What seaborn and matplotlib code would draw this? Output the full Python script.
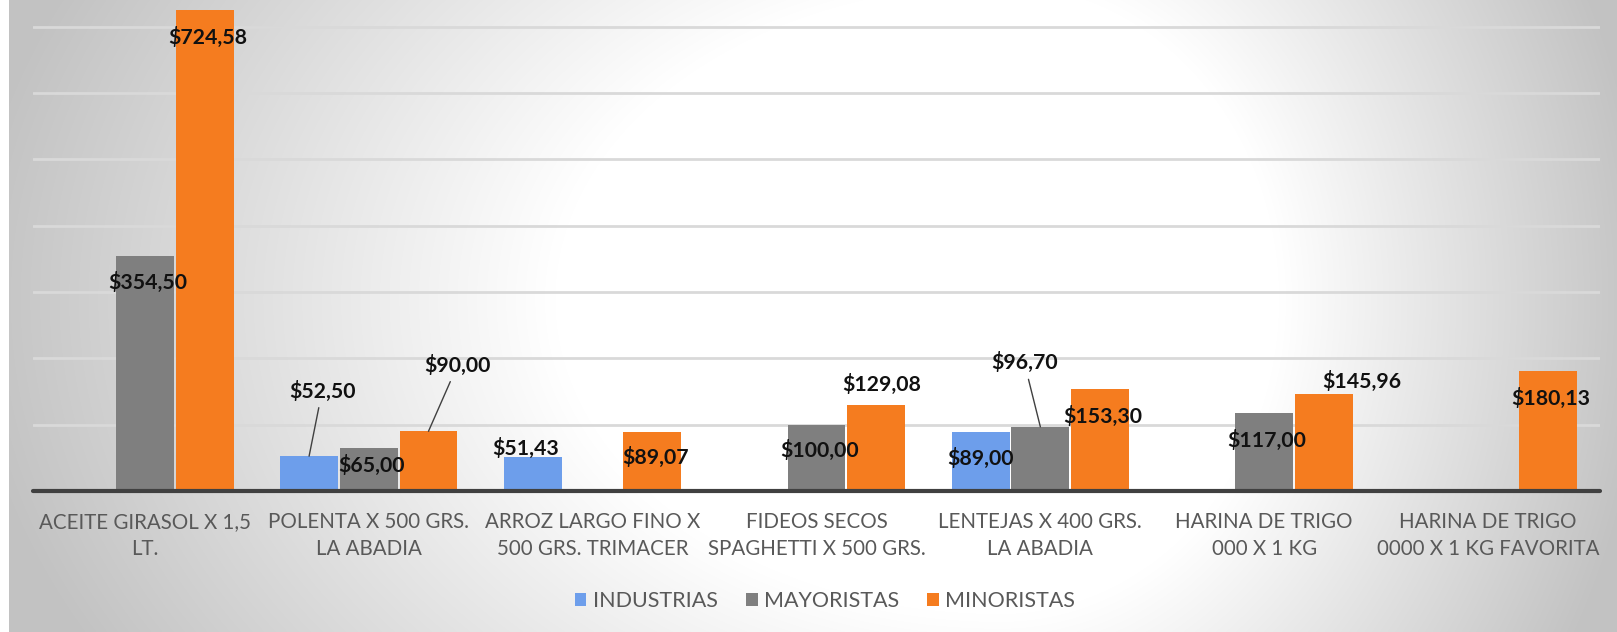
import numpy as np
import pandas as pd
import matplotlib
matplotlib.use("Agg")
import matplotlib.pyplot as plt
import seaborn as sns

# ---------------- data ----------------
categorias = [
    "ACEITE GIRASOL X 1,5\nLT.",
    "POLENTA X 500 GRS.\nLA ABADIA",
    "ARROZ LARGO FINO X\n500 GRS. TRIMACER",
    "FIDEOS SECOS\nSPAGHETTI X 500 GRS.",
    "LENTEJAS X 400 GRS.\nLA ABADIA",
    "HARINA DE TRIGO\n000 X 1 KG",
    "HARINA DE TRIGO\n0000 X 1 KG FAVORITA",
]
series = ["INDUSTRIAS", "MAYORISTAS", "MINORISTAS"]
industrias = [np.nan, 52.50, 51.43, np.nan, 89.00, np.nan, np.nan]
mayoristas = [354.50, 65.00, np.nan, 100.00, 96.70, 117.00, np.nan]
minoristas = [724.58, 90.00, 89.07, 129.08, 153.30, 145.96, 180.13]
gridline_values = [100, 200, 300, 400, 500, 600, 700]

# ---------------- style ----------------
colores = {"INDUSTRIAS": "#6D9EEB", "MAYORISTAS": "#7F7F7F", "MINORISTAS": "#F57C1F"}
# label offsets (pixels, relative to bar top-centre; +y = up) and leader flag
label_style = {
    ("INDUSTRIAS", 1): (13, 65, True),
    ("INDUSTRIAS", 2): (-7, 8, False),
    ("INDUSTRIAS", 4): (0, -27, False),
    ("MAYORISTAS", 0): (3, -27, False),
    ("MAYORISTAS", 1): (3, -18, False),
    ("MAYORISTAS", 3): (3, -26, False),
    ("MAYORISTAS", 4): (-16, 64, True),
    ("MAYORISTAS", 5): (2, -27, False),
    ("MINORISTAS", 0): (3, -27, False),
    ("MINORISTAS", 1): (29, 66, True),
    ("MINORISTAS", 2): (3, -26, False),
    ("MINORISTAS", 3): (6, 21, False),
    ("MINORISTAS", 4): (3, -27, False),
    ("MINORISTAS", 5): (38, 13, False),
    ("MINORISTAS", 6): (3, -27, False),
}

df = pd.DataFrame({
    "producto": categorias * 3,
    "serie": np.repeat(series, len(categorias)),
    "precio": industrias + mayoristas + minoristas,
})

W, H, DPI = 1617, 632, 100
sns.set_theme(style="white")
plt.rcParams["font.family"] = ["Lato", "DejaVu Sans"]

fig = plt.figure(figsize=(W / DPI, H / DPI), dpi=DPI, facecolor="white")

# background radial gradient
bg = fig.add_axes([9 / W, 0, 1 - 9 / W, 1], zorder=-10)
xs = np.arange(9, W) + 0.5
ys = np.arange(0, H) + 0.5
X, Y = np.meshgrid(xs, ys)
cx, cy = 1000.0, 300.0
axx = np.where(X < cx, 990.0, 620.0)
r = np.sqrt(((X - cx) / axx) ** 2 + ((Y - cy) / 700.0) ** 2)
v = 1.0 - 0.22 * np.clip((r - 0.45) / 0.55, 0, 1.08)
img = np.dstack([v, v, v])
bg.imshow(img, aspect="auto", extent=[0, 1, 0, 1], interpolation="bilinear")
bg.set_axis_off()

# main axes
left, right, base = 33, 1600, 491
ax = fig.add_axes([left / W, (H - base) / H, (right - left) / W, base / H])
ax.patch.set_alpha(0)
sns.barplot(data=df, x="producto", y="precio", hue="serie", order=categorias,
            hue_order=series, palette=colores, width=0.8, gap=0.03,
            saturation=1, linewidth=0, ax=ax, errorbar=None)
ax.set_ylim(0, 740)
ax.set_xlim(-0.5, len(categorias) - 0.5)
ax.set_yticks(gridline_values)
ax.yaxis.grid(True, color="#d9d9d9", lw=2)
ax.xaxis.grid(False)
ax.set_axisbelow(True)
ax.tick_params(axis="y", left=False, labelleft=False)
ax.tick_params(axis="x", bottom=False, pad=9)
ax.set_xlabel("")
ax.set_ylabel("")
for s in ax.spines.values():
    s.set_visible(False)
ax.axhline(0, color="#404040", lw=3, clip_on=False, zorder=5)
ax.set_xticks(range(len(categorias)))
ax.set_xticklabels(categorias, fontsize=14.8, color="#595959", linespacing=1.45)

# data labels
for cont, serie in zip(ax.containers, series):
    for bar in cont.patches:
        h = bar.get_height()
        xc = bar.get_x() + bar.get_width() / 2
        i = int(round(xc))
        key = (serie, i)
        if not np.isfinite(h) or h == 0 or key not in label_style:
            continue
        dx, dy, leader = label_style[key]
        txt = "$" + f"{h:.2f}".replace(".", ",")
        kw = {}
        if leader:
            kw["arrowprops"] = dict(arrowstyle="-", color="#404040", lw=1,
                                    shrinkA=2, shrinkB=0)
        ax.annotate(txt, xy=(xc, h), xytext=(dx, dy), textcoords="offset pixels",
                    ha="center", va="center", fontsize=15.3, fontweight="bold",
                    color="#111111", zorder=10, **kw)

# legend
sns.move_legend(ax, "center", bbox_to_anchor=((825 - left) / (right - left), -(601 - base) / base),
                ncol=3, frameon=False, title=None, fontsize=15.5,
                handlelength=0.55, handleheight=0.55, handletextpad=0.3,
                columnspacing=1.3)
for t in ax.get_legend().get_texts():
    t.set_color("#595959")

fig.savefig("out.png", dpi=DPI)
